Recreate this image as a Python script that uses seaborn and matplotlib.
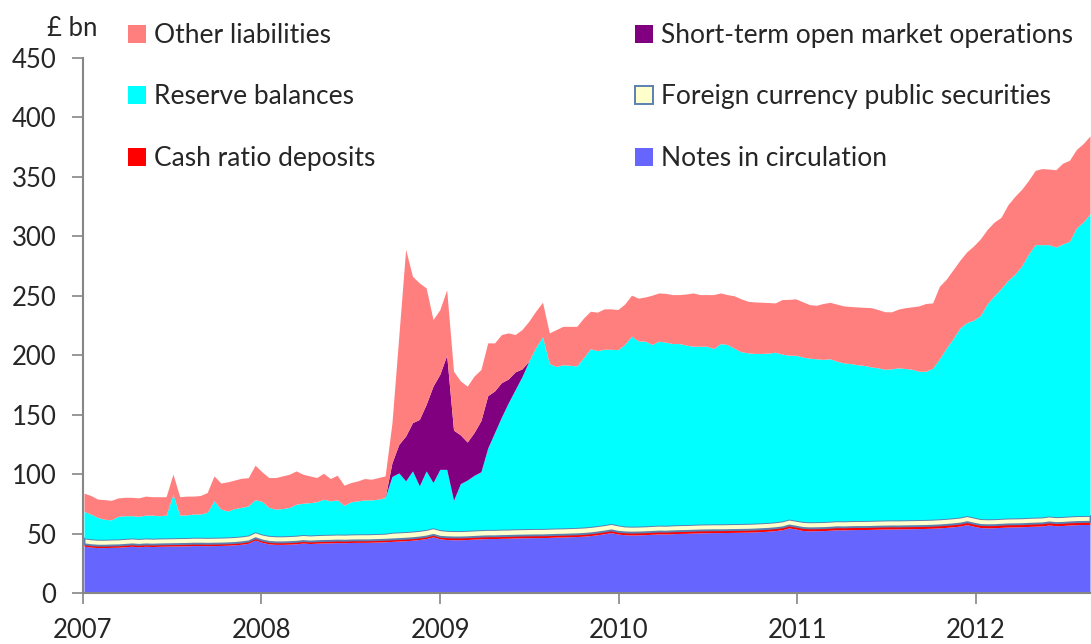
import numpy as np
import pandas as pd
import matplotlib
matplotlib.use('Agg')
import matplotlib.pyplot as plt
import matplotlib.dates as mdates
import seaborn as sns

# --- data: fortnightly readings, Jan 2007 - Aug 2012, £ bn ---
dates = pd.date_range('2007-01-03', periods=148, freq='14D')

notes = [
    39.4, 38.6, 38.2, 38.2, 38.4, 38.5, 38.9, 39.3, 38.9, 39.3, 39.1, 39.3, 39.4, 39.5, 39.6, 39.7, 39.9, 39.9, 39.8, 39.9, 40.0, 40.2, 40.5, 41.0, 41.8, 44.5, 42.6,
    41.3, 40.9, 40.9, 41.1, 41.4, 42.0, 41.6, 41.9, 42.1, 42.2, 42.4, 42.3, 42.5, 42.6, 42.6, 42.7, 42.9, 43.1, 43.4, 43.7, 44.0, 44.4, 45.0, 45.8, 47.2, 45.6,
    45.0, 44.8, 44.8, 45.0, 45.3, 45.6, 45.8, 45.8, 46.0, 46.1, 46.3, 46.4, 46.5, 46.6, 46.6, 46.8, 47.0, 47.1, 47.3, 47.5, 47.8, 48.3, 49.0, 49.8, 50.8, 49.6,
    49.0, 48.8, 48.9, 49.1, 49.4, 49.7, 49.6, 49.9, 50.1, 50.2, 50.4, 50.6, 50.7, 50.8, 50.8, 50.9, 51.0, 51.1, 51.2, 51.4, 51.7, 52.0, 52.5, 53.2, 54.8, 53.8,
    52.6, 52.3, 52.4, 52.5, 52.8, 53.2, 53.1, 53.3, 53.4, 53.4, 53.5, 53.7, 53.8, 53.9, 53.9, 54.0, 54.1, 54.2, 54.3, 54.5, 54.8, 55.2, 55.7, 56.3, 57.5, 56.2,
    55.0, 54.8, 54.9, 55.2, 55.5, 55.6, 55.7, 56.0, 56.2, 56.4, 57.2, 56.6, 56.8, 57.2, 57.5, 57.6, 57.7,
]

cash_ratio = [
    2.0, 2.0, 2.0, 2.0, 2.0, 2.0, 2.0, 2.0, 2.0, 2.0, 2.0, 2.0, 2.0, 2.0, 2.0, 2.0, 2.0, 2.0, 2.0, 2.0, 2.0, 2.0, 2.0, 2.0, 2.0, 2.0, 2.0,
    2.1, 2.1, 2.1, 2.1, 2.1, 2.1, 2.1, 2.1, 2.1, 2.1, 2.1, 2.1, 2.1, 2.1, 2.1, 2.1, 2.1, 2.1, 2.1, 2.1, 2.1, 2.1, 2.1, 2.1, 2.1, 2.1,
    2.3, 2.3, 2.3, 2.3, 2.3, 2.3, 2.3, 2.3, 2.3, 2.3, 2.3, 2.3, 2.3, 2.3, 2.3, 2.3, 2.3, 2.3, 2.3, 2.3, 2.3, 2.3, 2.3, 2.3, 2.3, 2.3,
    2.4, 2.4, 2.4, 2.4, 2.4, 2.4, 2.4, 2.4, 2.4, 2.4, 2.4, 2.4, 2.4, 2.4, 2.4, 2.4, 2.4, 2.4, 2.4, 2.4, 2.4, 2.4, 2.4, 2.4, 2.4, 2.4,
    2.5, 2.5, 2.5, 2.5, 2.5, 2.5, 2.5, 2.5, 2.5, 2.5, 2.5, 2.5, 2.5, 2.5, 2.5, 2.5, 2.5, 2.5, 2.5, 2.5, 2.5, 2.5, 2.5, 2.5, 2.5, 2.5,
    2.6, 2.6, 2.6, 2.6, 2.6, 2.6, 2.6, 2.6, 2.6, 2.6, 2.6, 2.6, 2.6, 2.6, 2.6, 2.6, 2.6,
]

fx_securities = [
    5.0, 5.0, 5.0, 5.0, 5.0, 5.0, 5.0, 5.0, 5.0, 5.0, 5.0, 5.0, 5.0, 5.0, 5.0, 5.0, 5.0, 5.0, 5.0, 5.0, 5.0, 5.0, 5.0, 5.0, 5.0, 5.0, 5.0,
    5.1, 5.1, 5.1, 5.1, 5.1, 5.1, 5.1, 5.1, 5.1, 5.1, 5.1, 5.1, 5.1, 5.1, 5.1, 5.1, 5.1, 5.1, 5.6, 5.6, 5.6, 5.6, 5.6, 5.6, 5.6, 5.6,
    5.4, 5.4, 5.4, 5.4, 5.4, 5.4, 5.4, 5.4, 5.4, 5.4, 5.4, 5.4, 5.4, 5.4, 5.4, 5.4, 5.4, 5.4, 5.4, 5.4, 5.4, 5.4, 5.4, 5.4, 5.4, 5.4,
    5.0, 5.0, 5.0, 5.0, 5.0, 5.0, 5.0, 5.0, 5.0, 5.0, 5.0, 5.0, 5.0, 5.0, 5.0, 5.0, 5.0, 5.0, 5.0, 5.0, 5.0, 5.0, 5.0, 5.0, 5.0, 5.0,
    5.1, 5.1, 5.1, 5.1, 5.1, 5.1, 5.1, 5.1, 5.1, 5.1, 5.1, 5.1, 5.1, 5.1, 5.1, 5.1, 5.1, 5.1, 5.1, 5.1, 5.1, 5.1, 5.1, 5.1, 5.1, 5.1,
    5.0, 5.0, 5.0, 5.0, 5.0, 5.0, 5.0, 5.0, 5.0, 5.0, 5.0, 5.0, 5.0, 5.0, 5.0, 5.0, 5.0,
]

reserves = [
    22.2, 20.8, 18.3, 16.8, 16.1, 19.0, 19.1, 18.7, 18.6, 19.2, 19.4, 18.7, 19.1, 36.5, 18.9, 19.0, 19.5, 19.5, 21.0, 30.6, 23.5, 21.8, 23.5, 24.0, 24.5, 27.0, 27.4,
    23.5, 22.4, 22.9, 23.7, 26.1, 26.3, 27.2, 27.6, 29.6, 28.1, 28.7, 24.3, 27.0, 27.7, 28.5, 28.4, 28.8, 30.0, 46.9, 49.6, 42.6, 50.6, 37.4, 49.2, 38.0, 50.7,
    51.3, 25.5, 39.5, 42.3, 46.0, 48.7, 68.5, 81.5, 94.3, 106.2, 117.0, 127.9, 140.8, 152.2, 161.2, 138.5, 135.8, 137.2, 136.5, 135.8, 142.5, 149.5, 147.1, 147.5, 146.5, 147.4,
    152.6, 159.8, 155.7, 155.3, 152.2, 154.7, 154.0, 152.5, 152.3, 150.9, 149.8, 149.6, 149.5, 147.4, 151.6, 150.7, 147.6, 144.5, 143.4, 142.7, 142.4, 142.4, 142.6, 140.4, 137.8, 138.8,
    138.3, 137.6, 137.0, 136.4, 136.6, 134.2, 132.8, 132.1, 131.0, 130.4, 129.1, 128.1, 126.8, 127.0, 127.9, 127.2, 126.5, 124.7, 124.6, 126.9, 134.6, 143.2, 150.7, 159.1, 162.4, 165.7,
    170.9, 181.1, 187.5, 193.2, 199.9, 204.8, 211.7, 221.4, 229.2, 229.0, 228.2, 226.8, 229.2, 231.0, 241.9, 246.8, 253.7,
]

short_term_omo = [
    0, 0, 0, 0, 0, 0, 0, 0, 0, 0, 0, 0, 0, 0, 0, 0, 0, 0, 0, 0, 0, 0, 0, 0, 0, 0, 0,
    0, 0, 0, 0, 0, 0, 0, 0, 0, 0, 0, 0, 0, 0, 0, 0, 0, 0, 11.5, 24.0, 37.7, 40.6, 55.9, 56.0, 81.1, 80.0,
    96.0, 59.0, 41.0, 32.0, 36.0, 43.0, 44.0, 35.0, 29.0, 20.0, 15.0, 6.5, 0, 0, 0, 0, 0, 0, 0, 0, 0, 0, 0, 0, 0, 0,
    0, 0, 0, 0, 0, 0, 0, 0, 0, 0, 0, 0, 0, 0, 0, 0, 0, 0, 0, 0, 0, 0, 0, 0, 0, 0,
    0, 0, 0, 0, 0, 0, 0, 0, 0, 0, 0, 0, 0, 0, 0, 0, 0, 0, 0, 0, 0, 0, 0, 0, 0, 0,
    0, 0, 0, 0, 0, 0, 0, 0, 0, 0, 0, 0, 0, 0, 0, 0, 0,
]

other = [
    15.4, 15.6, 15.5, 16.5, 16.5, 15.5, 15.5, 15.5, 15.5, 16.0, 15.5, 16.0, 15.5, 17.0, 15.5, 15.8, 15.1, 15.6, 16.7, 21.0, 22.0, 24.5, 24.0, 24.5, 23.7, 29.0, 25.0,
    25.1, 26.6, 27.5, 27.9, 28.0, 24.4, 22.5, 20.4, 21.8, 18.8, 20.8, 16.9, 16.2, 16.8, 18.0, 17.4, 18.2, 18.2, 33.5, 91.0, 157.0, 123.1, 114.8, 97.9, 56.0, 54.4,
    55.0, 49.6, 45.4, 47.0, 47.5, 43.0, 44.4, 40.4, 40.4, 38.8, 31.4, 33.1, 33.6, 30.5, 29.1, 25.8, 31.1, 32.3, 32.8, 33.3, 33.3, 31.5, 32.4, 34.0, 34.0, 33.7,
    34.0, 34.5, 36.0, 37.2, 41.5, 40.6, 41.0, 41.2, 41.2, 43.0, 44.8, 43.4, 43.4, 45.4, 42.6, 42.0, 44.0, 44.5, 43.4, 43.3, 43.1, 42.5, 41.5, 45.8, 47.0, 47.4,
    46.5, 45.1, 45.0, 47.0, 47.5, 48.0, 48.0, 48.0, 48.6, 48.9, 49.8, 49.1, 48.4, 48.0, 49.4, 51.2, 52.5, 55.0, 57.0, 55.0, 61.0, 58.0, 58.0, 57.0, 59.5, 62.5,
    64.5, 62.5, 62.0, 60.0, 63.5, 65.5, 64.5, 62.0, 62.5, 64.0, 63.6, 65.0, 67.9, 68.2, 66.0, 66.0, 65.5,
]

labels = ['Notes in circulation', 'Cash ratio deposits', 'Foreign currency public securities',
          'Reserve balances', 'Short-term open market operations', 'Other liabilities']
colors = ['#6666FF', '#FF0000', '#FFFFCC', '#00FFFF', '#800080', '#FF7F7F']

# --- plot ---
sns.set_theme(style='white')
plt.rcParams['font.family'] = ['Lato', 'DejaVu Sans']

W, H = 1091, 644
fig = plt.figure(figsize=(W / 100, H / 100), dpi=100)
ax = fig.add_axes([83 / W, 51 / H, 1007 / W, 535 / H])

polys = ax.stackplot(dates, notes, cash_ratio, fx_securities, reserves, short_term_omo, other,
                     colors=colors, labels=labels, linewidth=0)
polys[2].set_edgecolor('#5B80B2')
polys[2].set_linewidth(1.4)

ax.set_ylim(0, 450)
ax.set_yticks(range(0, 451, 50))
ax.set_xlim(pd.Timestamp('2007-01-01'), dates[-1])
ax.xaxis.set_major_locator(mdates.YearLocator())
ax.xaxis.set_major_formatter(mdates.DateFormatter('%Y'))

for side in ['top', 'right']:
    ax.spines[side].set_visible(False)
for side in ['left', 'bottom']:
    ax.spines[side].set_color('#868686')
    ax.spines[side].set_linewidth(1.5)
ax.tick_params(axis='y', direction='out', length=8, width=1.2, color='#868686',
               pad=11, labelsize=18.5, left=True)
ax.tick_params(axis='x', direction='out', length=8, width=1.2, color='#868686',
               pad=10, labelsize=18.5, bottom=True)
ax.grid(False)

fig.text(47 / W, 1 - 28 / H, '£ bn', fontsize=18.5, va='center', ha='left')

leg_kw = dict(frameon=False, fontsize=19, handlelength=0.68, handleheight=0.68,
              handletextpad=0.3, labelspacing=1.38, borderpad=0, borderaxespad=0,
              loc='upper left')
leg1 = fig.legend([polys[5], polys[3], polys[1]], [labels[5], labels[3], labels[1]],
                  bbox_to_anchor=(128 / W, 1 - 23 / H), **leg_kw)
leg2 = fig.legend([polys[4], polys[2], polys[0]], [labels[4], labels[2], labels[0]],
                  bbox_to_anchor=(635 / W, 1 - 23 / H), **leg_kw)

fig.savefig('out.png', dpi=100)
